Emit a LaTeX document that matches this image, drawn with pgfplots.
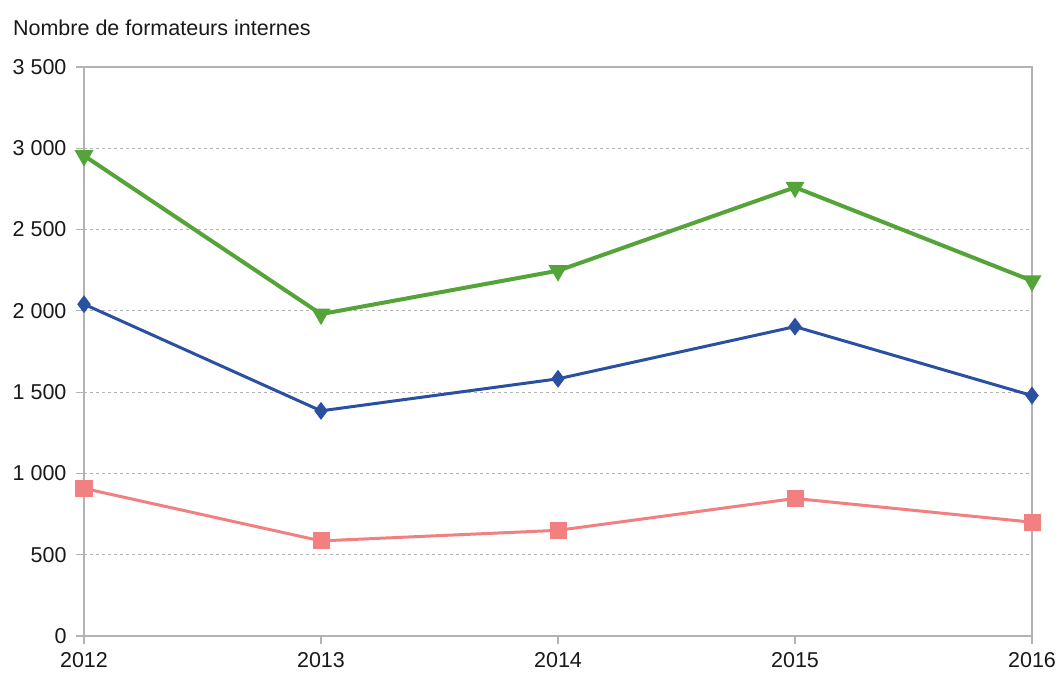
\documentclass[border=0pt]{standalone}
\usepackage{fontspec}
\setmainfont{Liberation Sans}
\usepackage{pgfplots}
\pgfplotsset{compat=1.18}

\definecolor{vert}{RGB}{84,164,58}
\definecolor{bleu}{RGB}{42,80,162}
\definecolor{rose}{RGB}{242,128,128}
\definecolor{grille}{RGB}{179,179,179}

\begin{document}
\begin{tikzpicture}
\useasboundingbox (-84pt,-39pt) rectangle (975pt,636pt);
\begin{axis}[
  at={(0pt,0pt)}, anchor=south west,
  scale only axis,
  width=948pt, height=569pt,
  xmin=2012, xmax=2016,
  ymin=0, ymax=3500,
  xtick={2012,2013,2014,2015,2016},
  ytick={0,500,...,3500},
  ymajorgrids,
  major grid style={grille, dashed, line width=1pt},
  axis line style={grille, line width=1.2pt},
  tick style={grille, line width=1.2pt},
  tick align=outside, tick pos=left,
  major tick length=8pt,
  /pgf/number format/assume math mode=true,
  /pgf/number format/1000 sep={\ },
  x tick label style={/pgf/number format/1000 sep={}},
  tick label style={font=\fontsize{21.5}{24}\selectfont, text=black!90},
  yticklabel style={xshift=-6pt},
  xticklabel style={yshift=-5pt},
  title={Nombre de formateurs internes},
  title style={font=\fontsize{21.5}{24}\selectfont, text=black!90, anchor=west,
    at={(axis description cs:-0.0785,1.0575)}},
]
\addplot[vert, line width=4pt, mark=triangle*, mark size=7pt,
  mark options={rotate=180, solid}] coordinates {
  (2012,2955) (2013,1980) (2014,2247) (2015,2760) (2016,2185)};
\addplot[bleu, line width=3pt, mark=diamond*, mark size=6.5pt,
  mark options={solid}] coordinates {
  (2012,2041) (2013,1385) (2014,1582) (2015,1903) (2016,1479)};
\addplot[rose, line width=3pt, mark=square*, mark size=7pt,
  mark options={solid}] coordinates {
  (2012,908) (2013,585) (2014,650) (2015,846) (2016,700)};
\end{axis}
\end{tikzpicture}
\end{document}
